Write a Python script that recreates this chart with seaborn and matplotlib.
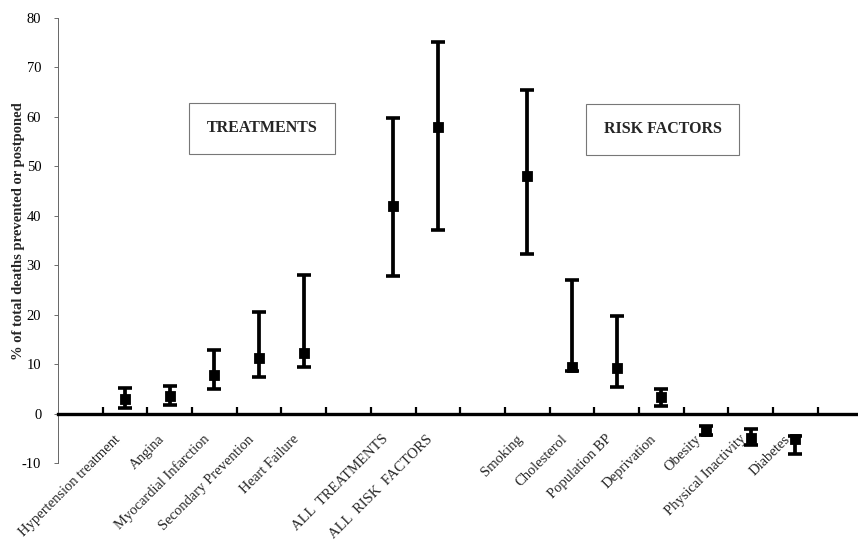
import matplotlib
matplotlib.use('Agg')
import matplotlib.pyplot as plt
import matplotlib.transforms as mtransforms
import seaborn as sns
import pandas as pd

# Slots along the x axis (None = empty gap slot, as in the original chart)
slots = [None, 'Hypertension treatment', 'Angina', 'Myocardial Infarction',
         'Secondary Prevention', 'Heart Failure', None,
         'ALL  TREATMENTS', 'ALL  RISK  FACTORS', None,
         'Smoking', 'Cholesterol', 'Population BP', 'Deprivation',
         'Obesity', 'Physical Inactivity', 'Diabetes', None]

categories = ['Hypertension treatment', 'Angina', 'Myocardial Infarction',
              'Secondary Prevention', 'Heart Failure',
              'ALL  TREATMENTS', 'ALL  RISK  FACTORS',
              'Smoking', 'Cholesterol', 'Population BP', 'Deprivation',
              'Obesity', 'Physical Inactivity', 'Diabetes']
best = [3.0, 3.6, 7.8, 11.2, 12.3, 42.0, 58.0, 48.0, 9.5, 9.3, 3.3, -3.5, -4.9, -5.2]
low = [1.2, 1.8, 5.0, 7.4, 9.5, 27.8, 37.2, 32.2, 8.6, 5.3, 1.5, -4.4, -6.3, -8.2]
high = [5.1, 5.6, 12.8, 20.6, 28.0, 59.8, 75.2, 65.4, 27.0, 19.7, 5.0, -2.6, -3.1, -4.5]

df = pd.DataFrame({'cat': categories, 'best': best, 'low': low, 'high': high})
df['x'] = [slots.index(c) for c in df['cat']]

sns.set_style('white')
plt.rcParams['font.family'] = ['Liberation Serif', 'DejaVu Serif']
plt.rcParams['axes.unicode_minus'] = False

fig = plt.figure(figsize=(8.58, 5.40), dpi=100)
ax = fig.add_axes([58 / 858, 77 / 540, 1 - 58 / 858, 445 / 540])

ax.errorbar(df['x'], df['best'],
            yerr=[df['best'] - df['low'], df['high'] - df['best']],
            fmt='none', ecolor='black', elinewidth=2.7, capsize=4.8, capthick=2.6)
sns.scatterplot(data=df, x='x', y='best', marker='s', s=55, color='black',
                edgecolor='black', ax=ax, zorder=5)

ax.set_xlim(-0.5, 17.4)
ax.set_ylim(-10, 80)
ax.set_yticks(range(-10, 90, 10))
ax.tick_params(axis='y', which='major', left=True, direction='out', length=3,
               width=0.6, colors='#555555', labelcolor='black',
               labelsize=10.5, pad=9)

# x axis drawn at zero, Excel style
ax.spines['bottom'].set_position(('data', 0))
ax.spines['bottom'].set_linewidth(2.4)
ax.spines['bottom'].set_color('black')
ax.spines['left'].set_linewidth(0.7)
ax.spines['left'].set_color('#666666')
ax.spines['top'].set_visible(False)
ax.spines['right'].set_visible(False)

bounds = [k + 0.5 for k in range(len(slots) - 1)]
ax.set_xticks(bounds)
ax.set_xticklabels([])
ax.tick_params(axis='x', which='major', bottom=True, direction='in',
               length=5, width=1.6, colors='black')
ax.set_xticks(range(len(slots)), minor=True)
ax.set_xticklabels([s if s else '' for s in slots], minor=True,
                   rotation=45, ha='right', va='center', rotation_mode='anchor',
                   fontsize=10.5)
ax.tick_params(axis='x', which='minor', bottom=True, length=0, pad=12)
shift = mtransforms.ScaledTranslation(-7 / 100, -7 / 100, fig.dpi_scale_trans)
for lab in ax.get_xticklabels(minor=True):
    lab.set_transform(lab.get_transform() + shift)

ax.set_xlabel('')
ax.set_ylabel('% of total deaths prevented or postponed', fontsize=10.5,
              fontweight='bold')
ax.yaxis.set_label_coords(-0.041, 0.52)

ax.text(4.06, 57.7, 'TREATMENTS', ha='center', va='center', fontsize=11.5,
        fontweight='bold', bbox=dict(boxstyle='square,pad=1.1', facecolor='white',
                                     edgecolor='#777777', linewidth=0.8))
ax.text(13.03, 57.5, 'RISK FACTORS', ha='center', va='center', fontsize=11.5,
        fontweight='bold', bbox=dict(boxstyle='square,pad=1.1', facecolor='white',
                                     edgecolor='#777777', linewidth=0.8))

fig.savefig('out.png', dpi=100)
